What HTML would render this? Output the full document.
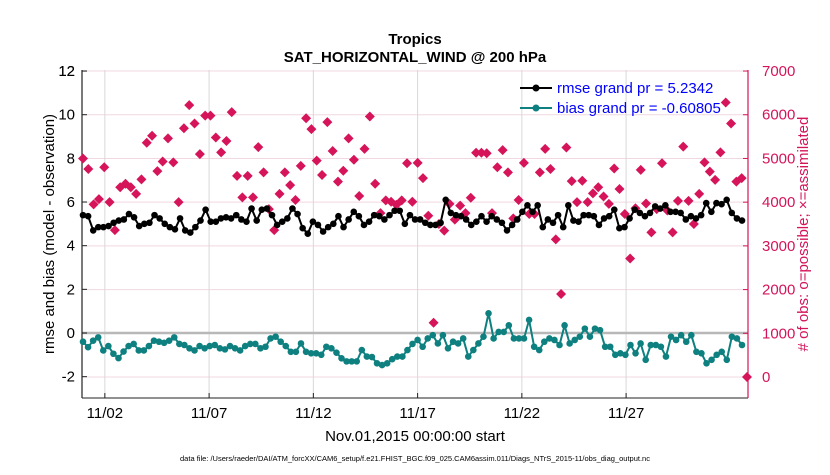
<!DOCTYPE html>
<html><head><meta charset="utf-8"><style>
body{margin:0;background:#fff;}
svg text{font-family:"Liberation Sans",sans-serif;}
</style></head><body>
<svg id="chart" width="830" height="470" viewBox="0 0 830 470" xmlns="http://www.w3.org/2000/svg">
<text x="415" y="44" text-anchor="middle" font-size="15" font-weight="bold">Tropics</text>
<text x="415" y="62" text-anchor="middle" font-size="15" font-weight="bold">SAT_HORIZONTAL_WIND @ 200 hPa</text>
<g id="grid"></g><g id="axes"></g><g id="marks"></g>
<text x="415" y="441" text-anchor="middle" font-size="15">Nov.01,2015 00:00:00 start</text>
<text x="415" y="461" text-anchor="middle" font-size="7.5">data file: /Users/raeder/DAI/ATM_forcXX/CAM6_setup/f.e21.FHIST_BGC.f09_025.CAM6assim.011/Diags_NTrS_2015-11/obs_diag_output.nc</text>
<text transform="translate(54,234) rotate(-90)" text-anchor="middle" font-size="15">rmse and bias (model - observation)</text>
<text transform="translate(808,234) rotate(-90)" text-anchor="middle" font-size="15" fill="#d4145a">#  of obs: o=possible; ×=assimilated</text>
<g>
<line x1="520" y1="88" x2="552" y2="88" stroke="#000" stroke-width="2"/><circle cx="536" cy="88" r="3.5" fill="#000"/>
<text x="557" y="93" font-size="15" fill="#0000ff">rmse grand pr = 5.2342</text>
<line x1="520" y1="108" x2="552" y2="108" stroke="#0f8080" stroke-width="2"/><circle cx="536" cy="108" r="3.5" fill="#0f8080"/>
<text x="557" y="113" font-size="15" fill="#0000ff">bias grand pr = -0.60805</text>
</g>
</svg>
<script>
const rmse=[5.4,5.35,4.7,4.85,4.85,4.9,5.05,5.15,5.2,5.45,5.3,4.9,5.0,5.05,5.4,5.25,5.0,4.85,4.75,5.25,4.7,4.6,4.85,5.15,5.65,5.1,5.1,5.25,5.3,5.25,5.4,5.2,5.1,5.7,5.15,5.65,
5.7,5.4,4.95,5.1,5.25,5.7,5.45,4.8,4.55,5.1,4.95,4.65,4.85,5.0,5.35,4.85,5.2,5.55,5.35,4.95,5.1,5.4,5.35,5.2,5.4,5.6,5.6,5.0,5.4,5.2,
5.2,5.05,4.95,4.95,5.05,6.1,5.5,5.4,5.35,5.2,4.95,5.1,5.35,5.1,5.35,5.2,5.05,4.7,4.95,5.2,5.55,5.85,5.55,5.85,4.85,5.2,5.05,5.4,4.85,5.85,5.15,
5.1,5.4,5.4,5.35,4.95,5.25,5.35,5.65,4.8,4.85,5.25,5.65,5.5,5.35,5.5,5.8,5.7,5.85,5.55,5.55,5.5,5.2,5.35,5.25,5.4,5.95,5.55,5.95,5.9,6.1,5.5,5.25,5.15];
const bias=[-0.4,-0.65,-0.35,-0.2,-0.8,-0.6,-0.95,-1.15,-0.85,-0.6,-0.5,-0.8,-0.8,-0.6,-0.35,-0.4,-0.45,-0.35,-0.2,-0.5,-0.55,-0.7,-0.8,-0.6,-0.7,-0.6,-0.55,-0.7,-0.75,-0.6,-0.7,-0.8,-0.6,-0.5,-0.5,-0.7,
-0.63,-0.25,-0.17,-0.4,-0.6,-0.86,-0.86,-0.48,-0.86,-0.93,-0.93,-1.0,-0.63,-0.7,-0.9,-1.16,-1.3,-1.3,-1.3,-0.78,-1.08,-1.1,-1.39,-1.47,-1.39,-1.2,-1.08,-1.08,-0.78,-0.5,-0.32,
-0.63,-0.25,-0.1,-0.48,-0.1,-0.7,-0.4,-0.48,-0.25,-1.08,-0.78,-0.48,-0.17,0.9,-0.25,0.05,0.05,0.35,-0.25,-0.25,-0.25,0.6,-0.63,-0.78,-0.4,-0.25,-0.32,-0.55,0.35,-0.48,-0.32,-0.17,0.2,
-0.17,0.2,0.13,-0.63,-0.63,-1.0,-0.93,-1.0,-0.55,-0.93,-0.48,-1.23,-0.55,-0.55,-0.63,-1.08,-0.17,-0.32,-0.1,-0.4,-0.1,-0.86,-0.93,-1.39,-1.23,-1.0,-0.86,-1.23,-0.17,-0.25,-0.55];
const obs=[5000,4760,3950,4070,4800,4000,3360,4340,4420,4340,4190,4520,5360,5520,4710,4930,5460,4910,4000,5690,6220,5800,5100,5980,5980,5480,5140,5400,6060,4600,4110,
4600,4110,5260,4680,3840,3360,4190,4680,4390,4050,4830,5920,5670,4950,4620,5830,5170,4470,4720,5460,4970,4140,5220,5960,4420,3750,4040,4010,3940,4040,4890,
4010,4900,4550,3690,1240,3500,3350,3960,3600,3920,3750,4100,5130,5130,5120,3750,4800,5190,4680,3630,4050,4900,3730,3730,4680,5220,4760,3150,1900,5250,4480,4000,
4490,4000,4200,4340,4130,3960,4770,4300,3730,2710,3860,4740,3970,3310,3840,4890,3810,3310,4030,5270,4030,3500,4190,4910,4700,4510,5140,6280,5800,4470,4550,0];
const leftTicks=[-2,0,2,4,6,8,10,12];
const rightTicks=[0,1000,2000,3000,4000,5000,6000,7000];
const dayTicks=[2,7,12,17,22,27];
const dayLabels=["11/02","11/07","11/12","11/17","11/22","11/27"];

const X0=82,X1=748,Y0=70,Y1=398;
const xDay=d=>84+(d-1)*20.85;
const yL=v=>333-v*21.83;
const yR=v=>377-v*0.04371;
const NS='http://www.w3.org/2000/svg';
function mk(tag,attrs,parent){const e=document.createElementNS(NS,tag);for(const k in attrs)e.setAttribute(k,attrs[k]);parent.appendChild(e);return e;}
const grid=document.getElementById('grid'),axes=document.getElementById('axes'),marks=document.getElementById('marks');

rightTicks.forEach(v=>{if(v===1000)return;const l=mk('line',{x1:X0,x2:X1,y1:yR(v),y2:yR(v),stroke:'#f0d8e2','stroke-width':1},grid);

});
dayTicks.forEach(d=>{const l=mk('line',{x1:xDay(d),x2:xDay(d),y1:Y0,y2:Y1,stroke:'#d8d8d8','stroke-width':1},grid);

});
const zl=mk('line',{x1:X0,x2:X1,y1:yL(0),y2:yL(0),stroke:'#b8b8b8','stroke-width':2.5},grid);



const la=mk('line',{x1:X0,x2:X0,y1:Y0,y2:Y1,stroke:'#222','stroke-width':1.2},axes);


const ba=mk('line',{x1:X0,x2:X1,y1:Y1,y2:Y1,stroke:'#222','stroke-width':1},axes);


const ra=mk('line',{x1:X1,x2:X1,y1:Y0,y2:Y1,stroke:'#d4145a','stroke-width':1.2},axes);


leftTicks.concat([12]).forEach(v=>{mk('line',{x1:X0,x2:X0+5,y1:yL(v),y2:yL(v),stroke:'#222'},axes);
const t=mk('text',{x:X0-7,y:yL(v)+5,'text-anchor':'end','font-size':15},axes);t.textContent=v;

});
rightTicks.forEach(v=>{mk('line',{x1:X1-5,x2:X1,y1:yR(v),y2:yR(v),stroke:'#d4145a'},axes);
const t=mk('text',{x:X1+14,y:yR(v)+5,'font-size':15,fill:'#d4145a'},axes);t.textContent=v;

});
dayTicks.forEach((d,i)=>{mk('line',{x1:xDay(d),x2:xDay(d),y1:Y1,y2:Y1-5,stroke:'#222'},axes);
const t=mk('text',{x:xDay(d),y:Y1+20,'text-anchor':'middle','font-size':15},axes);t.textContent=dayLabels[i];

});

function xs(n,a,b){return i=>a+(b-a)*i/(n-1);}
const xo=xs(obs.length,83,747);
obs.forEach((v,i)=>{const x=xo(i),y=yR(v);
const p=mk('path',{d:`M${x},${y-5}L${x+5},${y}L${x},${y+5}L${x-5},${y}Z`,fill:'#d6145a'},marks);

});
function series(arr,color,name){const f=xs(arr.length,83,742);
const pl=mk('polyline',{points:arr.map((v,i)=>f(i)+','+yL(v)).join(' '),fill:'none',stroke:color,'stroke-width':2},marks);


arr.forEach((v,i)=>{const c=mk('circle',{cx:f(i),cy:yL(v),r:3.3,fill:color},marks);

});}
series(rmse,'#000','rmse');
series(bias,'#0f8080','bias');
</script>
</body></html>
